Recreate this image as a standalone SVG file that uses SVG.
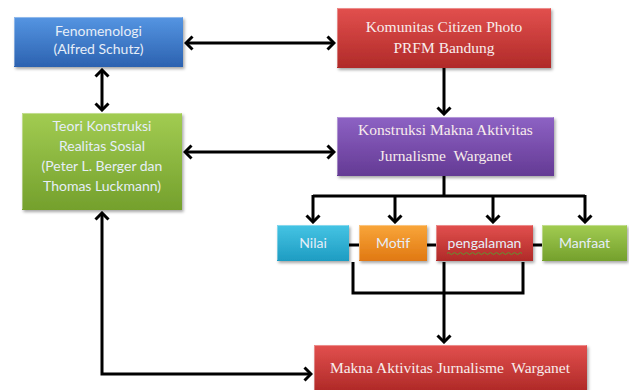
<svg xmlns="http://www.w3.org/2000/svg" width="629" height="390" viewBox="0 0 629 390">
<style>
.sans{font-family:Lato,"Noto Sans","Liberation Sans",sans-serif;font-size:14px;fill:#e6eef8;text-anchor:middle}
.serif{font-family:"Liberation Serif","Times New Roman",serif;font-size:15.5px;fill:#f8ecec;text-anchor:middle;white-space:pre}
.box{filter:url(#sh)}
.hl{fill:none;stroke:#ffffff;stroke-opacity:0.35;stroke-width:1}
.c{fill:none;stroke:#000;stroke-width:3}
</style>
<defs>
<filter id="sh" x="-10%" y="-10%" width="125%" height="130%"><feDropShadow dx="1.5" dy="2" stdDeviation="1.5" flood-color="#000" flood-opacity="0.35"/></filter>
<linearGradient id="gBlue" x1="0" y1="0" x2="0" y2="1"><stop offset="0" stop-color="#5595e2"/><stop offset="1" stop-color="#2c62b0"/></linearGradient>
<linearGradient id="gRed" x1="0" y1="0" x2="0" y2="1"><stop offset="0" stop-color="#e2504e"/><stop offset="1" stop-color="#b02a28"/></linearGradient>
<linearGradient id="gPurple" x1="0" y1="0" x2="0" y2="1"><stop offset="0" stop-color="#8d62c4"/><stop offset="1" stop-color="#643a94"/></linearGradient>
<linearGradient id="gGreen" x1="0" y1="0" x2="0" y2="1"><stop offset="0" stop-color="#a2cc52"/><stop offset="1" stop-color="#74a02c"/></linearGradient>
<linearGradient id="gCyan" x1="0" y1="0" x2="0" y2="1"><stop offset="0" stop-color="#45c4e4"/><stop offset="1" stop-color="#1e9cc2"/></linearGradient>
<linearGradient id="gOrange" x1="0" y1="0" x2="0" y2="1"><stop offset="0" stop-color="#f9a63a"/><stop offset="1" stop-color="#e07812"/></linearGradient>
<marker id="arr" viewBox="-8 -8 10 16" markerWidth="10" markerHeight="16" refX="0" refY="0" orient="auto-start-reverse" markerUnits="userSpaceOnUse">
<path d="M-6.5,-6.5 L0,0 L-6.5,6.5" fill="none" stroke="#000" stroke-width="3"/>
</marker>
</defs>

<g id="connectors">
<line class="c" x1="186" y1="43" x2="334" y2="43" marker-start="url(#arr)" marker-end="url(#arr)"/>
<line class="c" x1="102" y1="70" x2="102" y2="110" marker-start="url(#arr)" marker-end="url(#arr)"/>
<line class="c" x1="444" y1="68" x2="444" y2="114" marker-end="url(#arr)"/>
<line class="c" x1="185" y1="152" x2="334" y2="152" marker-start="url(#arr)" marker-end="url(#arr)"/>
<line class="c" x1="444" y1="176" x2="444" y2="196"/>
<line class="c" x1="313" y1="196" x2="585" y2="196"/>
<line class="c" x1="313" y1="195" x2="313" y2="222" marker-end="url(#arr)"/>
<line class="c" x1="395" y1="196" x2="395" y2="222" marker-end="url(#arr)"/>
<line class="c" x1="493" y1="196" x2="493" y2="222" marker-end="url(#arr)"/>
<line class="c" x1="585" y1="195" x2="585" y2="222" marker-end="url(#arr)"/>
<line class="c" x1="349" y1="245" x2="359" y2="245"/>
<line class="c" x1="427" y1="245" x2="436" y2="245"/>
<line class="c" x1="533" y1="245" x2="542" y2="245"/>
<path class="c" d="M353,262 V293 H523 V262"/>
<line class="c" x1="444" y1="262" x2="444" y2="342" marker-end="url(#arr)"/>
<path class="c" d="M102,213 V374 H311" marker-start="url(#arr)" marker-end="url(#arr)"/>
</g>

<g id="fenomenologi">
<rect class="box" x="14" y="17" width="169" height="50" fill="url(#gBlue)"/>
<path class="hl" d="M14.5,66 V17.5 H182.5"/>
<text class="sans" x="98.5" y="36">Fenomenologi</text>
<text class="sans" x="98.5" y="54">(Alfred Schutz)</text>
</g>

<g id="komunitas">
<rect class="box" x="337" y="8" width="214" height="60" fill="url(#gRed)"/>
<path class="hl" d="M337.5,67 V8.5 H550.5"/>
<text class="serif" x="444" y="32">Komunitas Citizen Photo</text>
<text class="serif" x="444" y="53">PRFM Bandung</text>
</g>

<g id="konstruksi">
<rect class="box" x="337" y="117" width="217" height="59" fill="url(#gPurple)"/>
<path class="hl" d="M337.5,175 V117.5 H553.5"/>
<text class="serif" x="445.5" y="135">Konstruksi Makna Aktivitas</text>
<text class="serif" x="445.5" y="161" xml:space="preserve">Jurnalisme  Warganet</text>
</g>

<g id="teori">
<rect class="box" x="22" y="113" width="160" height="97" fill="url(#gGreen)"/>
<path class="hl" d="M22.5,209 V113.5 H181.5"/>
<text class="sans" x="102" y="131">Teori Konstruksi</text>
<text class="sans" x="102" y="151">Realitas Sosial</text>
<text class="sans" x="102" y="171">(Peter L. Berger dan</text>
<text class="sans" x="102" y="191">Thomas Luckmann)</text>
</g>

<g id="nilai">
<rect class="box" x="277" y="225" width="72" height="36" fill="url(#gCyan)"/>
<path class="hl" d="M277.5,260 V225.5 H348.5"/>
<text class="sans" x="313" y="248">Nilai</text>
</g>

<g id="motif">
<rect class="box" x="359" y="225" width="68" height="36" fill="url(#gOrange)"/>
<path class="hl" d="M359.5,260 V225.5 H426.5"/>
<text class="sans" x="393" y="248">Motif</text>
</g>

<g id="pengalaman">
<rect class="box" x="436" y="225" width="97" height="36" fill="url(#gRed)"/>
<path class="hl" d="M436.5,260 V225.5 H532.5"/>
<text class="sans" x="484.5" y="248">pengalaman</text>
<path d="M447,253.5 q1.5,-2 3,0 t3,0 t3,0 t3,0 t3,0 t3,0 t3,0 t3,0 t3,0 t3,0 t3,0 t3,0 t3,0 t3,0 t3,0 t3,0 t3,0 t3,0 t3,0 t3,0 t3,0 t3,0 t3,0 t3,0 t3,0" fill="none" stroke="#5a9a30" stroke-width="1"/>
</g>

<g id="manfaat">
<rect class="box" x="542" y="225" width="85" height="36" fill="url(#gGreen)"/>
<path class="hl" d="M542.5,260 V225.5 H626.5"/>
<text class="sans" x="584.5" y="248">Manfaat</text>
</g>

<g id="makna">
<rect class="box" x="314" y="345" width="273" height="45" fill="url(#gRed)"/>
<path class="hl" d="M314.5,390 V345.5 H586.5"/>
<text class="serif" x="450" y="373" xml:space="preserve">Makna Aktivitas Jurnalisme  Warganet</text>
</g>
</svg>
